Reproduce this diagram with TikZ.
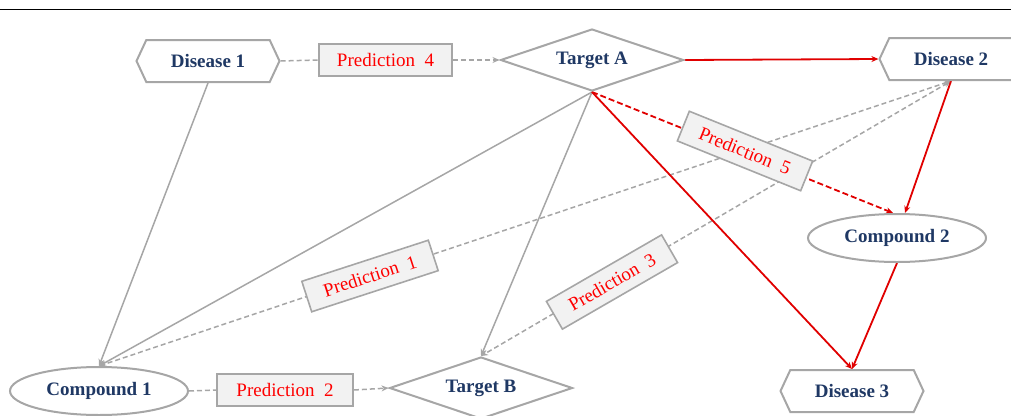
\documentclass[tikz,border=0pt]{standalone}
\usepackage{fontspec}
\setmainfont{Liberation Serif}
\usetikzlibrary{shapes.geometric,shapes.symbols,arrows.meta,backgrounds,calc}
\definecolor{nblue}{HTML}{1F3864}
\definecolor{lgray}{HTML}{A6A6A6}
\definecolor{bfill}{HTML}{F2F2F2}
\definecolor{pred}{HTML}{FF0000}
\definecolor{lred}{HTML}{E00000}
\begin{document}
\begin{tikzpicture}[x=1pt,y=-1pt,
  bigfont/.style={font=\fontsize{19}{22}\selectfont},
  boldfont/.style={font=\fontsize{19}{22}\selectfont\bfseries},
  dis/.style={signal, signal to=east and west, signal pointer angle=130, draw=lgray, line width=2pt, fill=white, minimum width=143pt, minimum height=42pt, inner sep=0pt, text=nblue, boldfont},
  tgt/.style={diamond, shape aspect=2.95, draw=lgray, line width=2pt, fill=white, minimum width=183pt, minimum height=62pt, inner sep=0pt, text=nblue, boldfont},
  cmp/.style={ellipse, draw=lgray, line width=2pt, fill=white, minimum width=178pt, minimum height=48pt, inner sep=0pt, text=nblue, boldfont},
  prd/.style={rectangle, draw=lgray, line width=1.6pt, fill=bfill, minimum width=133pt, minimum height=32pt, inner sep=0pt, text=pred, bigfont},
  gline/.style={draw=lgray, line width=1.5pt},
  gdash/.style={gline, dash pattern=on 5pt off 3pt},
  rline/.style={draw=lred, line width=1.8pt},
  rdash/.style={rline, dash pattern=on 6pt off 3pt},
  tip/.style={-{Stealth[length=7pt,width=6pt]}},
  both/.style={{Stealth[length=7pt,width=6pt]}-{Stealth[length=7pt,width=6pt]}},
  ]
\useasboundingbox (0,0) rectangle (1011,415);
\clip (0,0) rectangle (1011,415);
\draw[line width=1.5pt, black] (0,9.5) -- (1011,9.5);

\node[dis] (d1) at (208,61) {Disease 1};
\node[dis] (d2) at (951,59) {Disease 2};
\node[dis] (d3) at (852,391) {Disease 3};
\node[tgt] (ta) at (592,60) {Target A};
\node[tgt] (tb) at (481,388) {Target B};
\node[cmp] (c1) at (99,391) {Compound 1};
\node[cmp] (c2) at (897,238) {Compound 2};
\node[prd] (p4) at (385.5,60) {Prediction\ \ 4};
\node[prd, minimum width=136pt] (p2) at (285,390) {Prediction\ \ 2};
\node[prd, rotate=-22] (p5) at (745,151) {Prediction\ \ 5};
\node[prd, rotate=18] (p1) at (370,276) {Prediction\ \ 1};
\node[prd, rotate=30] (p3) at (612,282) {Prediction\ \ 3};

\begin{scope}[on background layer]
\draw[gline,tip] (d1.south) -- (c1.north);
\draw[gline,tip] (ta.south) -- (c1.north);
\draw[gline,tip] (ta.south) -- (tb.north);
\draw[gdash] (d1.east) -- (p4.west);
\draw[gdash,tip] (p4.east) -- (ta.west);
\draw[gdash] (c1.east) -- (p2.west);
\draw[gdash,tip] (p2.east) -- (tb.west);
\draw[gdash,both] (d2.south) -- (c1.north);
\draw[gdash,both] (d2.south) -- (tb.north);
\draw[rline,tip] (ta.east) -- (d2.west);
\draw[rline,tip] (d2.south) -- ([xshift=8pt]c2.north);
\draw[rline,tip] (ta.south) -- (d3.north);
\draw[rline,tip] (c2.south) -- (d3.north);
\draw[rdash,tip] (ta.south) -- ([xshift=-4pt]c2.north);
\end{scope}
\end{tikzpicture}
\end{document}
